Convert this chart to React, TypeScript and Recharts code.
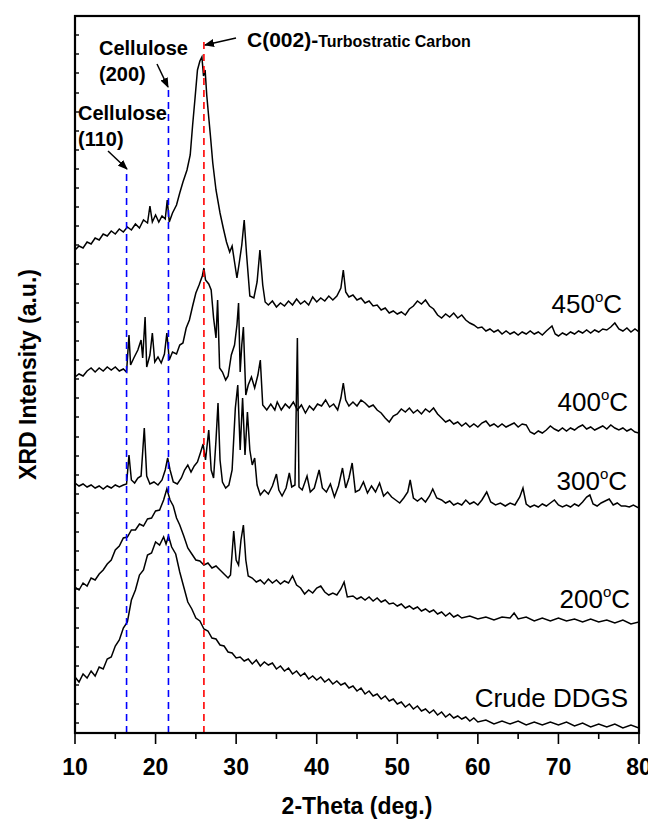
import React from "react";
import { LineChart, Line, XAxis, YAxis, ReferenceLine } from "recharts";

// 2-Theta (deg.) vs XRD intensity (a.u., stacked offsets)
const crudeDDGS: [number, number][] = [
  [10,56],[10.5,51],[11,59],[11.5,55],[12,62],[12.5,57],[13,66],[13.5,64],[14,74],[14.5,76],[15,87],[15.5,93],[16,105],[16.5,111],[17,133],[17.5,143],[18,158],[18.5,163],[19,178],[19.5,180],[20,191],[20.5,188],[21,196],[21.3,189],[21.6,197],[22,186],[22.5,179],[23,161],[23.5,146],[24,131],[24.5,124],[25,115],[25.5,112],[26,104],[26.5,102],[27,95],[27.5,94],[28,88],[28.5,87],[29,81],[29.5,80],[30,75],[30.5,76],[31,72],[31.5,74],[32,69],[32.5,73],[33,67],[33.5,71],[34,68],[34.5,70],[35,64],[35.5,67],[36,62],[36.5,65],[37,59],[37.5,62],[38,57],[38.5,60],[39,54],[39.5,57],[40,53],[40.5,56],[41,51],[41.5,54],[42,49],[42.5,52],[43,48],[43.5,50],[44,45],[44.5,47],[45,42],[45.5,45],[46,39],[46.5,42],[47,37],[47.5,39],[48,34],[48.5,37],[49,32],[49.5,34],[50,29],[50.5,31],[51,26],[51.5,29],[52,24],[52.5,27],[53,22],[53.5,24],[54,20],[54.5,23],[55,18],[55.5,21],[56,16],[56.5,19],[57,15],[57.5,17],[58,14],[58.5,16],[59,12],[59.5,15],[60,11],[61,13],[62,9],[63,12],[64,9],[65,12],[66,8],[67,11],[68,8],[69,11],[70,8],[71,11],[72,7],[73,10],[74,6],[75,9],[76,6],[77,9],[78,5],[79,8],[80,5]
];

const s200C: [number, number][] = [
  [10,146],[10.5,143],[11,150],[11.5,147],[12,155],[12.5,153],[13,159],[13.5,163],[14,169],[14.5,173],[15,183],[15.5,187],[16,195],[16.5,196],[17,203],[17.5,203],[18,209],[18.5,207],[19,214],[19.5,215],[20,222],[20.5,223],[21,233],[21.4,244],[21.8,233],[22.2,227],[22.6,215],[23,208],[23.5,197],[24,185],[24.5,179],[25,173],[25.5,172],[26,168],[26.5,170],[27,165],[27.5,167],[28,163],[28.5,159],[29,155],[29.3,158],[29.7,202],[30,173],[30.3,168],[30.6,193],[30.9,208],[31.2,173],[31.5,157],[32,155],[32.5,151],[33,153],[33.5,149],[34,154],[34.5,150],[35,153],[35.5,149],[36,152],[36.5,150],[37,157],[37.5,148],[38,145],[38.5,139],[39,143],[39.5,140],[40,145],[40.5,147],[41,141],[41.5,138],[42,140],[42.5,138],[43,144],[43.4,151],[43.8,136],[44.5,137],[45,134],[45.5,136],[46,133],[46.5,136],[47,132],[47.5,135],[48,131],[48.5,133],[49,129],[49.5,130],[50,127],[50.5,129],[51,125],[51.5,127],[52,124],[52.5,126],[53,122],[53.5,124],[54,121],[54.5,123],[55,119],[55.5,121],[56,117],[56.5,120],[57,116],[57.5,118],[58,115],[59,117],[60,114],[61,116],[62,113],[63,116],[64,115],[64.5,120],[65,114],[66,116],[67,112],[68,115],[69,112],[70,115],[71,112],[72,114],[73,111],[74,114],[75,111],[76,113],[77,110],[78,113],[79,109],[80,111]
];

const s300C: [number, number][] = [
  [10,250],[10.5,247],[11,249],[11.5,246],[12,248],[12.5,245],[13,247],[13.5,244],[14,247],[14.5,245],[15,248],[15.5,246],[16,248],[16.4,249],[16.7,278],[17,253],[17.4,250],[17.8,255],[18.2,257],[18.6,305],[18.9,257],[19.3,249],[19.8,251],[20.3,248],[20.8,253],[21.2,263],[21.5,275],[21.8,263],[22.2,251],[22.7,249],[23.2,255],[23.6,263],[24,268],[24.4,261],[24.8,267],[25.2,271],[25.6,281],[25.9,289],[26.2,273],[26.6,303],[26.9,263],[27.2,255],[27.5,293],[27.75,330],[28,273],[28.3,251],[28.7,245],[29.1,248],[29.5,263],[29.9,325],[30.2,348],[30.5,283],[30.8,335],[31.1,278],[31.4,321],[31.7,283],[32,268],[32.3,275],[32.6,248],[33,238],[33.5,243],[34,239],[34.5,247],[35,259],[35.3,243],[35.7,237],[36.2,245],[36.6,260],[36.9,246],[37.3,248],[37.6,395],[37.8,246],[38.2,243],[38.8,257],[39.2,241],[39.7,245],[40.3,263],[40.7,245],[41.2,241],[41.7,249],[42.2,236],[42.7,247],[43.2,265],[43.6,245],[44,255],[44.4,270],[44.8,241],[45.3,243],[45.8,251],[46.3,240],[46.8,247],[47.3,241],[47.8,250],[48.3,237],[48.8,241],[49.3,236],[49.8,233],[50.3,230],[50.8,235],[51.3,241],[51.6,253],[52,235],[52.5,232],[53,235],[53.5,231],[54,237],[54.4,244],[54.9,235],[55.5,233],[56,230],[56.5,232],[57,228],[57.5,230],[58,228],[58.5,233],[59,229],[59.5,231],[60,228],[60.5,233],[61.1,241],[61.6,231],[62.2,228],[62.8,230],[63.4,227],[64,230],[64.6,228],[65.2,236],[65.6,245],[66,229],[66.5,226],[67,228],[67.5,226],[68,229],[68.5,227],[69,230],[69.5,233],[70,228],[70.5,226],[71,228],[71.5,226],[72,229],[72.5,227],[73,231],[73.5,236],[73.9,238],[74.3,229],[74.8,227],[75.3,230],[75.8,232],[76.3,234],[76.8,228],[77.3,230],[77.8,227],[78.3,227],[78.8,226],[79.3,228],[80,225]
];

const s400C: [number, number][] = [
  [10,356],[10.5,359],[11,357],[11.5,362],[12,365],[12.5,361],[13,365],[13.5,362],[14,366],[14.5,363],[15,366],[15.5,362],[16,364],[16.4,361],[16.7,398],[16.9,368],[17.3,375],[17.8,383],[18.2,393],[18.4,375],[18.7,416],[18.9,366],[19.3,378],[19.6,400],[19.9,371],[20.3,376],[20.7,370],[21.1,379],[21.4,400],[21.7,373],[22.1,381],[22.6,379],[23,388],[23.4,390],[23.8,405],[24.2,413],[24.6,427],[25,440],[25.4,448],[25.8,457],[26,465],[26.2,453],[26.6,449],[26.9,443],[27.2,415],[27.5,395],[27.7,433],[27.95,365],[28.3,361],[28.7,353],[29,357],[29.4,378],[29.8,388],[30.1,408],[30.3,430],[30.5,361],[30.7,388],[30.9,406],[31.2,338],[31.5,348],[31.9,356],[32.3,345],[32.7,358],[33,373],[33.3,328],[33.8,323],[34.3,329],[34.8,323],[35.1,331],[35.6,323],[36.1,329],[36.6,325],[37.1,331],[37.6,323],[38.1,328],[38.6,320],[39.1,327],[39.6,323],[40.1,329],[40.6,327],[41.1,333],[41.6,326],[42.1,329],[42.6,323],[43,335],[43.3,350],[43.6,333],[44,327],[44.5,331],[45,327],[45.5,333],[46,330],[46.5,326],[47,328],[47.5,323],[48,320],[48.5,315],[49,311],[49.5,317],[50,319],[50.5,324],[51,321],[51.5,325],[52,320],[52.5,323],[53,319],[53.5,324],[54,321],[54.5,325],[55,319],[55.5,315],[56,311],[56.5,313],[57,309],[57.5,311],[58,307],[58.5,310],[59,306],[59.5,309],[60,306],[60.5,310],[61,312],[61.5,307],[62,309],[62.5,306],[63,309],[63.5,306],[64,308],[64.5,310],[65,306],[65.5,309],[66,308],[66.5,301],[67,299],[67.5,302],[68,300],[68.5,303],[69,307],[69.5,304],[70,302],[70.5,305],[71,302],[71.5,305],[72,303],[72.5,306],[73,308],[73.5,304],[74,306],[74.5,303],[75,305],[75.5,307],[76,304],[76.5,308],[77,305],[77.5,303],[78,305],[78.5,302],[79,304],[79.5,301],[80,300]
];

const s450C: [number, number][] = [
  [10,483],[10.5,487],[11,485],[11.5,491],[12,489],[12.5,495],[13,493],[13.5,499],[14,497],[14.5,502],[15,499],[15.5,504],[16,501],[16.5,506],[17,503],[17.5,509],[18,505],[18.5,513],[19,510],[19.3,527],[19.6,511],[20,518],[20.4,511],[20.8,517],[21.2,514],[21.45,533],[21.7,511],[22.1,520],[22.6,528],[23,540],[23.4,551],[23.9,563],[24.3,578],[24.6,608],[24.9,635],[25.2,663],[25.5,672],[25.75,676],[25.95,657],[26.15,663],[26.35,638],[26.55,620],[26.8,598],[27.1,570],[27.5,543],[28,520],[28.4,505],[28.8,491],[29.2,481],[29.5,487],[29.8,471],[30.1,455],[30.4,471],[30.7,488],[31,513],[31.3,478],[31.7,437],[32.2,435],[32.6,451],[32.95,483],[33.3,448],[33.6,431],[34,428],[34.5,432],[35,426],[35.5,430],[36,427],[36.5,432],[37,428],[37.5,434],[38,429],[38.5,432],[39,428],[39.5,436],[40,431],[40.5,435],[41,432],[41.5,437],[42,433],[42.5,437],[43,445],[43.3,463],[43.6,441],[44,436],[44.5,438],[45,433],[45.5,435],[46,430],[46.5,432],[47,427],[47.5,428],[48,423],[48.5,425],[49,420],[49.5,422],[50,419],[50.5,421],[51,418],[51.5,424],[52,427],[52.5,432],[53,429],[53.5,433],[54,427],[54.5,424],[55,418],[55.5,415],[56,419],[56.5,416],[57,420],[57.5,415],[58,418],[58.5,413],[59,410],[59.5,408],[60,405],[60.5,406],[61,402],[61.5,404],[62,401],[62.5,403],[63,399],[63.5,402],[64,399],[64.5,401],[65,398],[65.5,401],[66,399],[66.5,402],[67,399],[67.5,401],[68,398],[68.5,402],[69.2,407],[69.6,399],[70,397],[70.5,400],[71,398],[71.5,401],[72,399],[72.5,402],[73,400],[73.5,403],[74,400],[74.5,403],[75,401],[75.5,404],[76,403],[76.5,406],[77,410],[77.5,404],[78,402],[78.5,405],[79,401],[79.5,404],[80,401]
];

const seriesList = [
  { name: "Crude DDGS", points: crudeDDGS },
  { name: "200°C", points: s200C },
  { name: "300°C", points: s300C },
  { name: "400°C", points: s400C },
  { name: "450°C", points: s450C },
];

const xTicks = [10, 15, 20, 25, 30, 35, 40, 45, 50, 55, 60, 65, 70, 75, 80];
const yTicks = [698, 679, 660, 640, 621, 602, 583, 564, 545, 526, 507, 488, 469, 449, 430, 411, 392, 373, 354, 335, 316, 296, 277, 258, 239, 220, 201, 182, 163, 144, 125, 105, 86, 67, 48, 29, 10];
const xDomain: [number, number] = [10, 80];
const yDomain: [number, number] = [0, 717];

// reference peak positions (2-Theta) and the intensity where each dashed marker starts
const cellulose110 = { x: 16.4, top: 564 };
const cellulose200 = { x: 21.6, top: 646 };
const carbon002 = { x: 26.0, top: 692 };

const W = 648;
const H = 817;
const PLOT_LEFT = 67;
const PLOT_RIGHT = 631;
const PLOT_TOP = 8;
const PLOT_BOTTOM = 725;
const FONT = '"Liberation Sans", Arial, Helvetica, sans-serif';

const XTick = (props: any) => {
  const { x, payload } = props;
  const major = payload.value % 10 === 0;
  return (
    <g>
      <line x1={x} x2={x} y1={PLOT_BOTTOM} y2={PLOT_BOTTOM + (major ? 11 : 6)} stroke="#000" strokeWidth={1.6} />
      {major && (
        <text x={x} y={PLOT_BOTTOM + 42} textAnchor="middle" fontSize={23} fontWeight="bold" fontFamily={FONT} fill="#000">
          {payload.value}
        </text>
      )}
    </g>
  );
};

const YTick = (props: any) => {
  const { y } = props;
  return <line x1={PLOT_LEFT} x2={PLOT_LEFT + 4} y1={y} y2={y} stroke="#000" strokeWidth={1.4} />;
};

const SeriesLabel = ({ x, y, main, tail }: { x: number; y: number; main: string; tail?: boolean }) => (
  <text x={x} y={y} textAnchor="end" fontSize={26} fontFamily={FONT} fill="#000">
    {main}
    {tail && (
      <>
        <tspan fontSize={15} dy={-11}>o</tspan>
        <tspan dy={11}>C</tspan>
      </>
    )}
  </text>
);

export default function App() {
  return (
    <div style={{ position: "relative", width: W, height: H }}>
      <LineChart width={W} height={H} margin={{ top: PLOT_TOP, right: W - PLOT_RIGHT, bottom: 0, left: 0 }}>
        <XAxis
          xAxisId="b"
          dataKey="t"
          type="number"
          domain={xDomain}
          ticks={xTicks}
          interval={0}
          height={H - PLOT_BOTTOM}
          tickLine={false}
          tick={<XTick />}
          axisLine={{ stroke: "#000", strokeWidth: 1.8 }}
          allowDataOverflow
        />
        <YAxis
          yAxisId="l"
          type="number"
          domain={yDomain}
          ticks={yTicks}
          interval={0}
          width={PLOT_LEFT}
          tickLine={false}
          tick={<YTick />}
          axisLine={{ stroke: "#000", strokeWidth: 1.8 }}
          allowDataOverflow
        />
        {seriesList.map((s) => (
          <Line
            key={s.name}
            xAxisId="b"
            yAxisId="l"
            data={s.points.map(([t, v]) => ({ t, v }))}
            dataKey="v"
            type="linear"
            stroke="#000"
            strokeWidth={1.5}
            dot={false}
            isAnimationActive={false}
          />
        ))}
        <ReferenceLine
          xAxisId="b"
          yAxisId="l"
          segment={[{ x: cellulose110.x, y: 0 }, { x: cellulose110.x, y: cellulose110.top }]}
          stroke="#0000ff"
          strokeWidth={1.6}
          strokeDasharray="7 5"
        />
        <ReferenceLine
          xAxisId="b"
          yAxisId="l"
          segment={[{ x: cellulose200.x, y: 0 }, { x: cellulose200.x, y: cellulose200.top }]}
          stroke="#0000ff"
          strokeWidth={1.6}
          strokeDasharray="7 5"
        />
        <ReferenceLine
          xAxisId="b"
          yAxisId="l"
          segment={[{ x: carbon002.x, y: 0 }, { x: carbon002.x, y: carbon002.top }]}
          stroke="#ff0000"
          strokeWidth={1.6}
          strokeDasharray="7 5"
        />
      </LineChart>
      <svg width={W} height={H} style={{ position: "absolute", left: 0, top: 0, pointerEvents: "none" }}>
        <defs>
          <marker id="ah" markerWidth="10" markerHeight="8" refX="9" refY="4" orient="auto" markerUnits="userSpaceOnUse">
            <path d="M0,0 L10,4 L0,8 z" fill="#000" />
          </marker>
        </defs>
        {/* plot frame */}
        <rect
          x={PLOT_LEFT}
          y={PLOT_TOP}
          width={PLOT_RIGHT - PLOT_LEFT}
          height={PLOT_BOTTOM - PLOT_TOP}
          fill="none"
          stroke="#000"
          strokeWidth={2.2}
        />
        {/* axis titles */}
        <text x={(PLOT_LEFT + PLOT_RIGHT) / 2} y={806} textAnchor="middle" fontSize={23} fontWeight="bold" fontFamily={FONT} fill="#000">
          2-Theta (deg.)
        </text>
        <text transform={`translate(28, ${(PLOT_TOP + PLOT_BOTTOM) / 2}) rotate(-90)`} textAnchor="middle" fontSize={23} fontWeight="bold" fontFamily={FONT} fill="#000">
          XRD Intensity (a.u.)
        </text>
        {/* series labels */}
        <SeriesLabel x={614} y={305} main="450" tail />
        <SeriesLabel x={620} y={403} main="400" tail />
        <SeriesLabel x={619} y={482} main="300" tail />
        <SeriesLabel x={622} y={600} main="200" tail />
        <SeriesLabel x={620} y={699} main="Crude DDGS" />
        {/* annotations */}
        <text x={91} y={47} fontSize={20} fontWeight="bold" fontFamily={FONT} fill="#000">Cellulose</text>
        <text x={91} y={73} fontSize={20} fontWeight="bold" fontFamily={FONT} fill="#000">(200)</text>
        <text x={70} y={112} fontSize={20} fontWeight="bold" fontFamily={FONT} fill="#000">Cellulose</text>
        <text x={70} y={138} fontSize={20} fontWeight="bold" fontFamily={FONT} fill="#000">(110)</text>
        <line x1={149} y1={56} x2={160} y2={79} stroke="#000" strokeWidth={1.5} markerEnd="url(#ah)" />
        <line x1={100} y1={143} x2={119} y2={161} stroke="#000" strokeWidth={1.5} markerEnd="url(#ah)" />
        <line x1={228} y1={30} x2={197} y2={37} stroke="#000" strokeWidth={1.5} markerEnd="url(#ah)" />
        <text x={239} y={39} fontSize={21} fontWeight="bold" fontFamily={FONT} fill="#000">
          C(002)-<tspan fontSize={16}>Turbostratic Carbon</tspan>
        </text>
      </svg>
    </div>
  );
}
